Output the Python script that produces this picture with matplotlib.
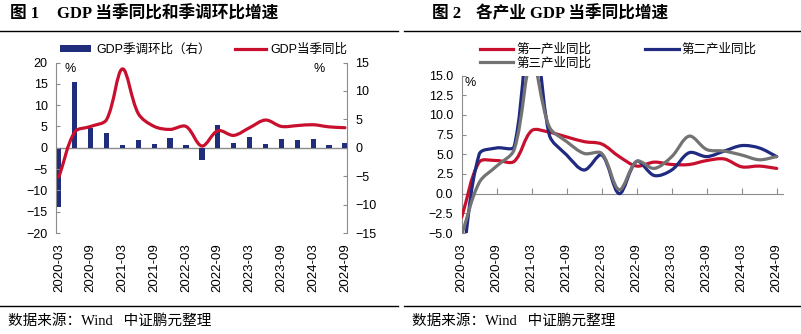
"""
GDP YoY / QoQ (left) and YoY by industry (right), quarterly 2020-03 .. 2024-09.
"""
import numpy as np
import matplotlib; matplotlib.use("Agg")
import matplotlib.pyplot as plt
from matplotlib.path import Path
from matplotlib.patches import PathPatch, Patch
from matplotlib.lines import Line2D
from matplotlib.ticker import FuncFormatter

plt.rcParams['font.family'] = ['Liberation Sans', 'Noto Sans CJK SC']
plt.rcParams['axes.unicode_minus'] = True

# ── data ────────────────────────────────────────────────────────────────────
QUARTERS = ["2020-03", "2020-06", "2020-09", "2020-12",
            "2021-03", "2021-06", "2021-09", "2021-12",
            "2022-03", "2022-06", "2022-09", "2022-12",
            "2023-03", "2023-06", "2023-09", "2023-12",
            "2024-03", "2024-06", "2024-09"]
GDP_YOY = [-6.9, 3.7, 5.0, 6.6, 18.5, 8.0, 5.0, 4.3, 5.0, 0.4,
           4.0, 2.9, 4.7, 6.5, 5.0, 5.2, 5.4, 4.9, 4.7]          # left axis
GDP_QOQ = [-10.4, 11.5, 3.4, 2.6, 0.5, 1.4, 0.6, 1.8, 0.4, -2.1,
           4.0, 0.8, 1.9, 0.6, 1.5, 1.3, 1.5, 0.5, 0.9]          # right axis
PRIMARY = [-3.0, 4.0, 4.2, 4.1, 8.0, 7.8, 7.2, 6.6, 6.3, 4.7,
           3.5, 4.0, 3.7, 3.7, 4.2, 4.4, 3.4, 3.5, 3.2]
SECONDARY = [-9.6, 5.0, 5.8, 6.0, 24.4, 7.5, 4.9, 3.0, 4.9, 0.0,
             4.1, 2.3, 3.0, 5.2, 4.7, 5.4, 6.1, 5.8, 4.7]
TERTIARY = [-5.2, 1.4, 3.5, 5.6, 17.0, 8.5, 6.6, 5.1, 5.1, 0.5,
            4.1, 3.2, 4.7, 7.3, 5.6, 5.4, 4.9, 4.3, 4.7]

RED, NAVY, BAR_C, GREY = "#C8102E", "#1F2A80", "#1F2D7B", "#737373"
AX_C = "#8C8C8C"
W, H = 801, 334


def smooth_path(x, y, sx, sy):
    """Smoothed line as cubic Bezier path through the data points.
    Handle lengths are weighted by the on-screen segment lengths (sx, sy = px per unit)."""
    pts = np.column_stack([np.asarray(x, float), np.asarray(y, float)])
    n = len(pts)
    scr = pts * [sx, sy]
    seg = np.hypot(*np.diff(scr, axis=0).T)          # segment lengths in px
    out_h, in_h = [], []
    for i in range(n):
        p0, p2 = pts[max(i - 1, 0)], pts[min(i + 1, n - 1)]
        d0 = seg[i - 1] if i > 0 else 0.0
        d1 = seg[i] if i < n - 1 else 0.0
        t = (p2 - p0) * 2 / 3 / max(d0 + d1, 1e-9)
        out_h.append(pts[i] + t * d1 / 2)
        in_h.append(pts[i] - t * d0 / 2)
    verts, codes = [pts[0]], [Path.MOVETO]
    for i in range(n - 1):
        verts += [out_h[i], in_h[i + 1], pts[i + 1]]
        codes += [Path.CURVE4] * 3
    return Path(verts, codes)


def add_curve(ax, x, y, color, sx, sy):
    ax.add_patch(PathPatch(smooth_path(x, y, sx, sy), fill=False, edgecolor=color, lw=2.3,
                           capstyle="round", joinstyle="round", zorder=3))


def px_axes(l, t, r, b):
    return [l / W, 1 - b / H, (r - l) / W, (b - t) / H]


fig = plt.figure(figsize=(W / 100, H / 100), dpi=100)
x = np.arange(len(QUARTERS))

# ── left: GDP YoY (line, left) + QoQ sa (bars, right) ──────────────────────
ax1 = fig.add_axes(px_axes(56, 62.5, 347, 233))
ax1r = ax1.twinx()
ax1r.axhline(0, color=AX_C, lw=1, zorder=1)
ax1r.bar(x, GDP_QOQ, width=0.33, color=BAR_C, zorder=2)
add_curve(ax1, x, GDP_YOY, RED, 15.9, 4.27)
ax1.set_zorder(ax1r.get_zorder() + 1)
ax1.patch.set_visible(False)
ax1.set_xlim(-0.18, 18.13)
ax1.set_ylim(-20, 20); ax1r.set_ylim(-15, 15)
ax1.set_yticks(np.arange(-20, 21, 5)); ax1r.set_yticks(np.arange(-15, 16, 5))
for s in ("top", "bottom", "right"):
    ax1.spines[s].set_visible(False)
for s in ("top", "bottom", "left"):
    ax1r.spines[s].set_visible(False)
ax1.spines["left"].set_color(AX_C); ax1r.spines["right"].set_color(AX_C)
ax1.tick_params(axis="y", direction="in", length=3, color=AX_C, labelsize=9, pad=6)
ax1r.tick_params(axis="y", direction="in", length=3, color=AX_C, labelsize=9, pad=6)
ax1.set_xticks(x[::2], QUARTERS[::2], rotation=90)
ax1.tick_params(axis="x", length=0, labelsize=9.5, pad=7.5)
ax1r.tick_params(axis="x", bottom=False, labelbottom=False)
ax1.text(0.048, 0.96, "%", transform=ax1.transAxes, ha="center", va="center", fontsize=9)
ax1.text(0.904, 0.96, "%", transform=ax1.transAxes, ha="center", va="center", fontsize=9)

fig.legend([Patch(facecolor=BAR_C), Line2D([], [], color=RED, lw=2.3)],
           ["GDP季调环比（右）", "GDP当季同比"], loc="center left",
           bbox_to_anchor=(60 / W, 1 - 50 / H), ncol=2, frameon=False, fontsize=9,
           borderpad=0, borderaxespad=0, handlelength=2.5, handleheight=0.5,
           handletextpad=0.4, columnspacing=1.9)

# ── right: YoY by industry ─────────────────────────────────────────────────
ax2 = fig.add_axes(px_axes(461.7, 75.5, 782.7, 233))
for vals, c in ((PRIMARY, RED), (SECONDARY, NAVY), (TERTIARY, GREY)):
    add_curve(ax2, x, vals, c, 17.5, 7.9)
ax2.set_xlim(0, 18.34)
ax2.set_ylim(-5, 15)
ax2.set_yticks(np.arange(-5, 15.1, 2.5))
ax2.yaxis.set_major_formatter(FuncFormatter(lambda v, _: f"{v:.1f}".replace("-", "\u2212")))
for s in ("top", "right"):
    ax2.spines[s].set_visible(False)
ax2.spines["left"].set_color(AX_C)
ax2.spines["bottom"].set_color(AX_C)
ax2.spines["bottom"].set_position(("data", 0))
ax2.tick_params(axis="y", direction="in", length=3, color=AX_C, labelsize=9, pad=6)
ax2.set_xticks(x[::2])
ax2.tick_params(axis="x", direction="in", length=4, color=AX_C, labelbottom=False)
sec = ax2.secondary_xaxis(0)
sec.set_xticks(x[::2], QUARTERS[::2], rotation=90)
sec.tick_params(length=0, labelsize=9.5, pad=7.5)
sec.spines["bottom"].set_visible(False)
ax2.text(0.026, 0.955, "%", transform=ax2.transAxes, ha="center", va="center", fontsize=9)

h = [Line2D([], [], color=c, lw=2.3) for c in (RED, GREY, NAVY)]
fig.legend(h, ["第一产业同比", "第三产业同比", "第二产业同比"], loc="center left",
           bbox_to_anchor=(480 / W, 1 - 56.5 / H), ncol=2, frameon=False, fontsize=9,
           borderpad=0, borderaxespad=0, handlelength=2.67, handletextpad=0.25,
           columnspacing=4.3, labelspacing=0.1)

# ── titles, rules, source notes ────────────────────────────────────────────
tfont = dict(fontsize=12, fontweight="bold", va="center",
             family=["Liberation Serif", "Noto Sans CJK SC"])
fig.text(10 / W, 1 - 14 / H, "图 1", **tfont)
fig.text(57 / W, 1 - 14 / H, "GDP 当季同比和季调环比增速", **tfont)
fig.text(432 / W, 1 - 14 / H, "图 2", **tfont)
fig.text(476 / W, 1 - 14 / H, "各产业 GDP 当季同比增速", **tfont)
sfont = dict(fontsize=10.5, va="center", family=["Liberation Serif", "Noto Sans CJK SC"])
fig.text(8 / W, 1 - 321 / H, "数据来源：Wind   中证鹏元整理", **sfont)
fig.text(412 / W, 1 - 321 / H, "数据来源：Wind   中证鹏元整理", **sfont)
for x0, x1 in ((0, 398), (404, 800)):
    for yy in (30.5, 306):
        fig.add_artist(Line2D([x0 / W, x1 / W], [1 - yy / H] * 2,
                              transform=fig.transFigure, color="black", lw=1))

fig.savefig("out.png", dpi=100)
